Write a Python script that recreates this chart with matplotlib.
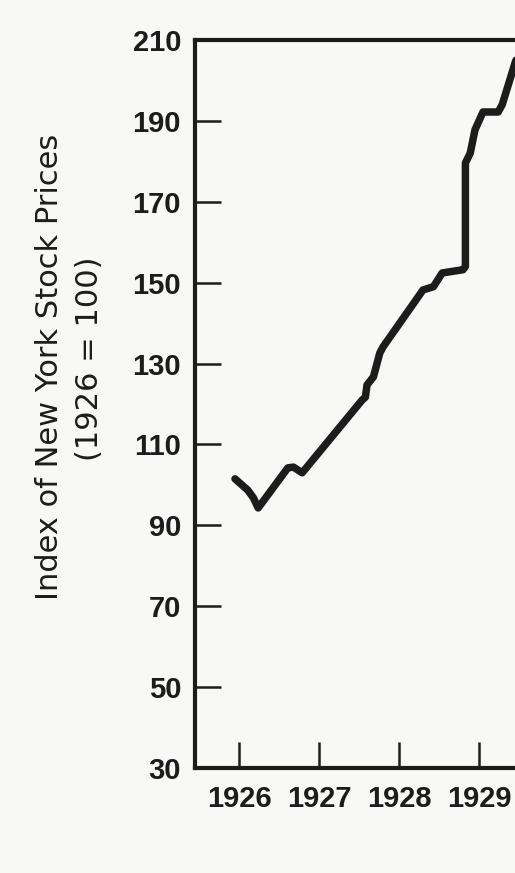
import matplotlib
matplotlib.use('Agg')
import matplotlib.pyplot as plt

# values
years = [1925.95, 1926.11, 1926.18, 1926.24, 1926.61, 1926.68, 1926.79,
         1927.54, 1927.58, 1927.60, 1927.68, 1927.76, 1927.80, 1928.30,
         1928.43, 1928.54, 1928.80, 1928.83, 1928.83, 1928.89, 1928.95,
         1929.05, 1929.24, 1929.29, 1929.45, 1929.60]
index = [101.5, 98.7, 96.8, 94.3, 104.2, 104.4, 103.0,
         121.0, 121.7, 124.7, 126.7, 132.6, 134.1, 148.2,
         149.0, 152.4, 153.2, 154.0, 179.6, 182.0, 187.8,
         192.2, 192.2, 194.0, 204.3, 213.0]
xticks = [1926, 1927, 1928, 1929]
yticks = [30, 50, 70, 90, 110, 130, 150, 170, 190, 210]

W, H = 515, 873
bg = '#f8f8f6'
ink = '#1c1c1c'

fig = plt.figure(figsize=(W / 100, H / 100), dpi=100, facecolor=bg)
left, right_px = 195, 545
ax = fig.add_axes([left / W, (H - 768) / H, (right_px - left) / W, (768 - 40) / H])
ax.set_facecolor(bg)

ax.plot(years, index, color=ink, lw=5.4, solid_joinstyle='round',
        solid_capstyle='round', clip_on=True)

ax.set_xlim(1926 - 44 / 80, 1926 - 44 / 80 + (right_px - left) / 80)
ax.set_ylim(30, 210)
ax.set_xticks(xticks)
ax.set_yticks(yticks)
ax.set_xticklabels([str(t) for t in xticks])
ax.set_yticklabels([str(t) for t in yticks])

for s in ['left', 'bottom', 'top']:
    ax.spines[s].set_linewidth(3.0)
    ax.spines[s].set_color(ink)
ax.spines['right'].set_visible(False)

ax.tick_params(axis='both', direction='in', length=19, width=1.8,
               color=ink, labelcolor=ink)
ax.tick_params(axis='y', pad=10)
ax.tick_params(axis='x', pad=12)
for lbl in ax.get_xticklabels() + ax.get_yticklabels():
    lbl.set_fontfamily('Liberation Sans')
    lbl.set_fontweight('bold')
    lbl.set_fontsize(21)
# no tick marks at the corners
ax.yaxis.get_major_ticks()[-1].tick1line.set_visible(False)
ax.yaxis.get_major_ticks()[0].tick1line.set_visible(False)

fig.text(50 / W, 1 - 367 / H, 'Index of New York Stock Prices',
         rotation=90, ha='center', va='center', color=ink,
         family='DejaVu Sans', fontsize=22)
fig.text(89 / W, 1 - 359 / H, '(1926 = 100)',
         rotation=90, ha='center', va='center', color=ink,
         family='DejaVu Sans', fontsize=22)

fig.savefig('out.png', dpi=100, facecolor=bg)
